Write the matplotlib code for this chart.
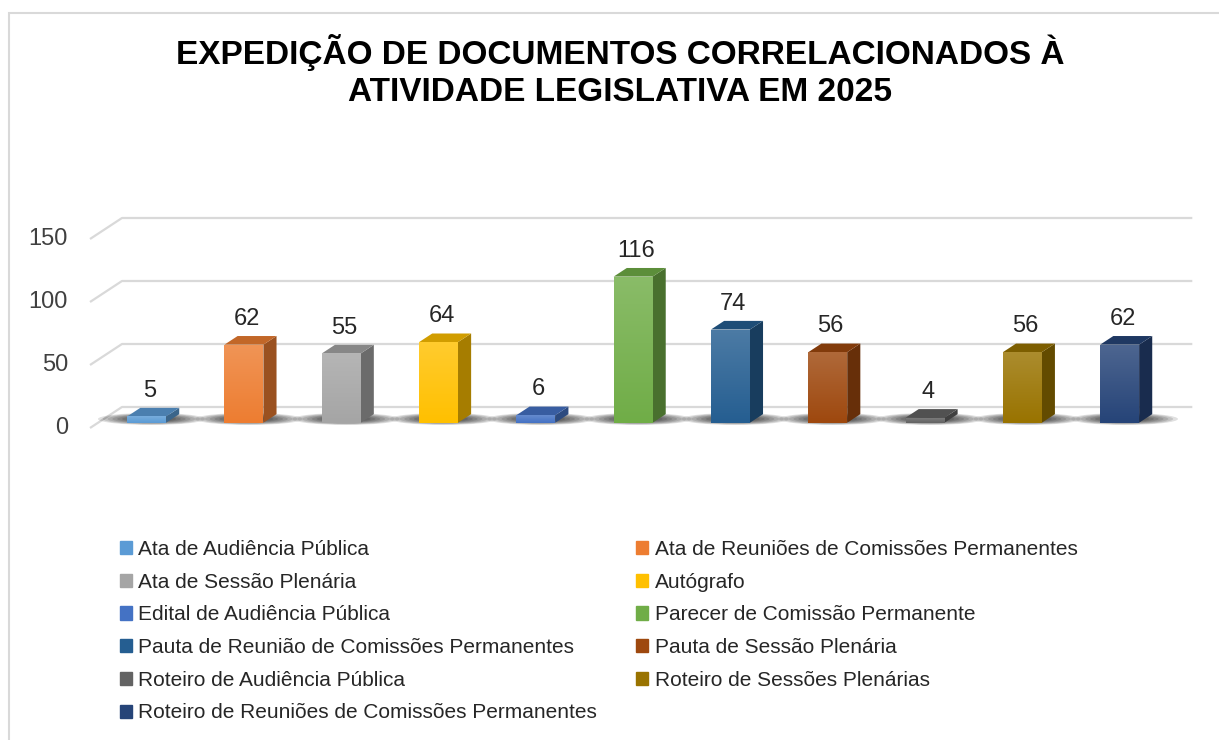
import matplotlib.pyplot as plt
import numpy as np
from matplotlib.patches import Polygon, Ellipse, Patch, Rectangle
from matplotlib.colors import LinearSegmentedColormap, to_rgb

categorias = [
    "Ata de Audiência Pública",
    "Ata de Reuniões de Comissões Permanentes",
    "Ata de Sessão Plenária",
    "Autógrafo",
    "Edital de Audiência Pública",
    "Parecer de Comissão Permanente",
    "Pauta de Reunião de Comissões Permanentes",
    "Pauta de Sessão Plenária",
    "Roteiro de Audiência Pública",
    "Roteiro de Sessões Plenárias",
    "Roteiro de Reuniões de Comissões Permanentes",
]
valores = [5, 62, 55, 64, 6, 116, 74, 56, 4, 56, 62]
cores = ["#5B9BD5", "#ED7D31", "#A5A5A5", "#FFC000", "#4472C4", "#70AD47",
         "#255E91", "#9E480E", "#636363", "#997300", "#264478"]
ticks_y = [0, 50, 100, 150]
titulo = "EXPEDIÇÃO DE DOCUMENTOS CORRELACIONADOS À\nATIVIDADE LEGISLATIVA EM 2025"

plt.rcParams['font.family'] = ['Liberation Sans', 'DejaVu Sans']


def mix(c, alvo, t):
    c = np.array(to_rgb(c))
    return tuple(c + (np.array(alvo) - c) * t)


fig = plt.figure(figsize=(12.19, 7.40), dpi=100)
ax = fig.add_axes([0, 0, 1, 1])
ax.axis('off')

# escala: 1 categoria = 97.3 px, 1 unidade = 1.26 px
PX_X = 97.3
PX_Y = 1.26
X0 = 138.65
Y0 = 312
DX = 32 / PX_X   # profundidade total
DY = 21 / PX_Y
d0, d1 = 0.25, 0.66
w = 0.4
n = len(valores)

# grade (parede lateral + fundo)
for v in ticks_y:
    ax.plot([-0.5, -0.5 + DX, n - 0.5 + DX], [v, v + DY, v + DY],
            color='#D9D9D9', lw=1.6, zorder=1, solid_capstyle='butt')
    ax.text(-0.5 - 0.226, v, str(v), ha='right', va='center',
            fontsize=17, color='#404040')

# sombras no piso
for i, v in enumerate(valores):
    cx = i + 0.4 * DX
    cy = 0.43 * DY
    for k in range(9):
        s = 1 - k * 0.09
        ax.add_patch(Ellipse((cx, cy), 1.1 * s, 9.5 * s, color='black',
                             alpha=0.12, lw=0, zorder=2))

x = np.arange(n) + d0 * DX
b0 = d0 * DY
barras = ax.bar(x, valores, width=w, bottom=b0, color=cores, zorder=4)

sx = (d1 - d0) * DX
sy = (d1 - d0) * DY
grad = np.linspace(0, 1, 100).reshape(-1, 1)
for rect, v, c in zip(barras, valores, cores):
    xl = rect.get_x()
    xr = xl + w
    top = b0 + v
    cmap = LinearSegmentedColormap.from_list('g', [mix(c, (1, 1, 1), 0.18), to_rgb(c)])
    im = ax.imshow(grad, extent=[xl, xr, b0, top], aspect='auto', cmap=cmap,
                   zorder=4.5, interpolation='bilinear')
    im.set_clip_path(rect)
    lado = Polygon([(xr, b0), (xr + sx, b0 + sy), (xr + sx, top + sy), (xr, top)],
                   closed=True, fc=mix(c, (0, 0, 0), 0.35), ec='none', zorder=4)
    ax.add_patch(lado)
    tampa = Polygon([(xl, top), (xr, top), (xr + sx, top + sy), (xl + sx, top + sy)],
                    closed=True, fc=mix(c, (0, 0, 0), 0.18), ec='none', zorder=4)
    ax.add_patch(tampa)
    ax.text(xl + w / 2 + 0.03, top + sy + 5, str(v), ha='center', va='bottom',
            fontsize=17, color='#262626', zorder=6)

ax.set_xlim(-X0 / PX_X, (1219 - X0) / PX_X)
ax.set_ylim(-Y0 / PX_Y, (740 - Y0) / PX_Y)

fig.text(0.5086, 1 - 71 / 740, titulo, ha='center', va='center', fontsize=24,
         fontweight='bold', color='black', linespacing=1.29)

ordem = [0, 2, 4, 6, 8, 10, 1, 3, 5, 7, 9]
handles = [Patch(color=cores[i]) for i in ordem]
labels = [categorias[i] for i in ordem]
fig.legend(handles, labels, ncol=2, loc='upper left',
           bbox_to_anchor=(101 / 1219, 1 - 521 / 740), frameon=False,
           fontsize=15, handlelength=0.6, handleheight=0.6, handletextpad=0.3,
           labelspacing=0.66, columnspacing=1.85, labelcolor='#262626')

fig.add_artist(Rectangle((9 / 1219, -0.1), 1.2, 0.1 + 727 / 740,
                         transform=fig.transFigure, fill=False,
                         ec='#D9D9D9', lw=1.5))

fig.savefig('out.png', dpi=100, facecolor='white')
